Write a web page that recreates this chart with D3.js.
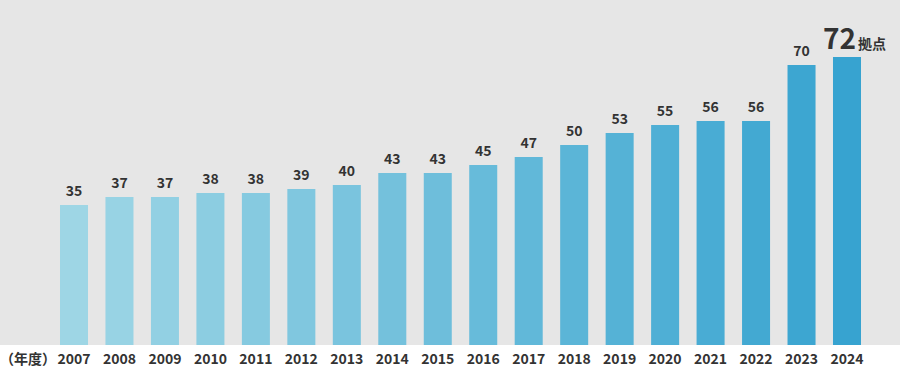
<!DOCTYPE html>
<html>
<head>
<meta charset="utf-8">
<script src="https://cdn.jsdelivr.net/npm/d3@7"></script>
<style>
  body { margin: 0; background: #fff; }
  #vis { width: 900px; height: 371px; }
  text { font-family: "Noto Sans CJK JP", "Noto Sans", sans-serif; font-weight: bold; fill: #333; }
</style>
</head>
<body>
<div id="vis"></div>
<script>
var years = ['2007', '2008', '2009', '2010', '2011', '2012', '2013', '2014', '2015',
    '2016', '2017', '2018', '2019', '2020', '2021', '2022', '2023', '2024'];
var sites = [35, 37, 37, 38, 38, 39, 40, 43, 43, 45, 47, 50, 53, 55, 56, 56, 70, 72];
var unitLabel = '拠点';
var yearLabel = '（年度）';

var width = 900;
var height = 371;
var base = 345;

var svg = d3.select('#vis')
    .append('svg')
    .attr('width', width)
    .attr('height', height);

svg.append('rect')
    .attr('width', width)
    .attr('height', base)
    .attr('fill', '#e6e6e6');

var x_scale = d3.scaleBand()
    .domain(years)
    .range([60, 861])
    .paddingInner(0.384)
    .paddingOuter(0);

var y_scale = d3.scaleLinear()
    .domain([0, base / 4])
    .range([base, 0]);

var colour_scale = d3.scaleLinear()
    .domain([0, years.length - 1])
    .range(['#9ed6e5', '#37a3d0']);

var data = years.map(function(y, i) { return { year: y, value: sites[i], i: i }; });

svg.selectAll('.bar')
    .data(data)
    .enter()
    .append('rect')
    .attr('class', 'bar')
    .attr('x', function(d) { return x_scale(d.year); })
    .attr('width', x_scale.bandwidth())
    .attr('y', function(d) { return y_scale(d.value); })
    .attr('height', function(d) { return base - y_scale(d.value); })
    .attr('fill', function(d) { return colour_scale(d.i); });

// value labels
var last = data.length - 1;
svg.selectAll('.val')
    .data(data.slice(0, last))
    .enter()
    .append('text')
    .attr('class', 'val')
    .attr('x', function(d) { return x_scale(d.year) + x_scale.bandwidth() / 2; })
    .attr('y', function(d) { return y_scale(d.value) - 9; })
    .attr('text-anchor', 'middle')
    .style('font-size', '14px')
    .text(function(d) { return d.value; });

var big = svg.append('text')
    .attr('x', x_scale(data[last].year) - 10)
    .attr('y', y_scale(data[last].value) - 8);
big.append('tspan')
    .style('font-size', '28px')
    .text(data[last].value);
big.append('tspan')
    .attr('dx', 2)
    .style('font-size', '14px')
    .text(unitLabel);

// x axis labels
svg.selectAll('.yr')
    .data(years)
    .enter()
    .append('text')
    .attr('class', 'yr')
    .attr('x', function(d) { return x_scale(d) + x_scale.bandwidth() / 2; })
    .attr('y', 364)
    .attr('text-anchor', 'middle')
    .style('font-size', '14px')
    .text(function(d) { return d; });

svg.append('text')
    .attr('x', 0)
    .attr('y', 364)
    .style('font-size', '14px')
    .text(yearLabel);
</script>
</body>
</html>
